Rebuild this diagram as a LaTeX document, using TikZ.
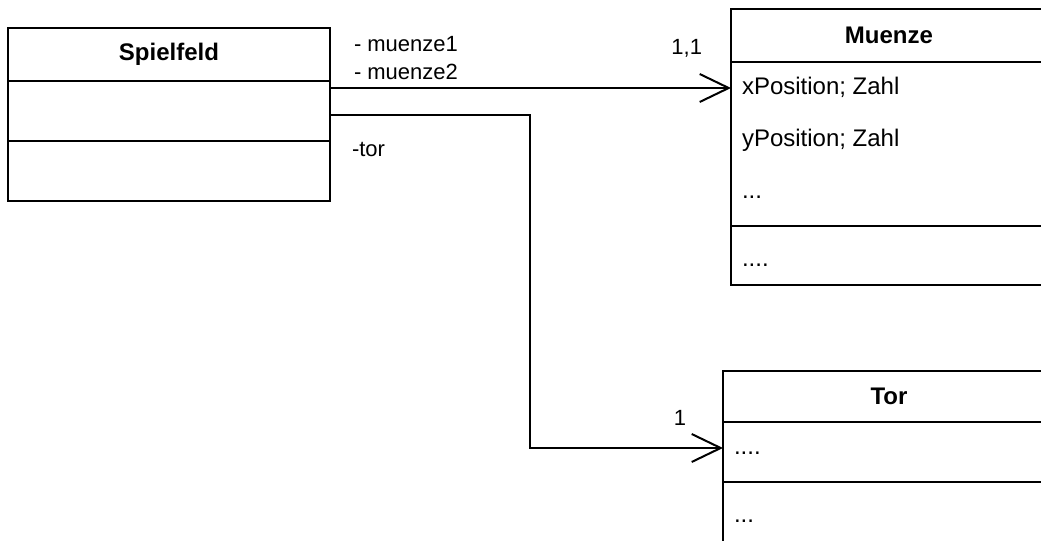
\documentclass[tikz,border=0pt]{standalone}
\usepackage{fontspec}
\setmainfont{Liberation Sans}
\usetikzlibrary{arrows.meta,positioning}

\begin{document}
\begin{tikzpicture}[x=0.5pt,y=-0.5pt,line width=1pt,
  every node/.style={font=\fontsize{12}{14}\selectfont},
  classhead/.style={draw,anchor=north west,inner sep=0pt,outer sep=0pt,font=\fontsize{12}{14}\selectfont\bfseries},
  compart/.style={draw,anchor=north west,inner sep=0pt,outer sep=0pt},
  attr/.style={anchor=west,inner xsep=5.5pt,inner ysep=0pt,outer sep=0pt,text height=9pt,text depth=2.5pt},
  lbl/.style={inner sep=0pt,font=\fontsize{11}{13}\selectfont},
  assoc/.style={-{Straight Barb[length=14.5pt,width=14pt]}}]
  \useasboundingbox (0,0) rectangle (1041,541);
  % Spielfeld
  \node[classhead,minimum width=161pt,minimum height=26.5pt] (sf) at (8,28) {Spielfeld};
  \node[compart,minimum width=161pt,minimum height=30pt] (sfattr) at (sf.south west) {};
  \node[compart,minimum width=161pt,minimum height=30pt] (sfops) at (sfattr.south west) {};
  % Muenze
  \node[classhead,minimum width=158pt,minimum height=26.5pt] (mz) at (731,9) {Muenze};
  \node[compart,minimum width=158pt,minimum height=82pt] (mzattr) at (mz.south west) {};
  \node[compart,minimum width=158pt,minimum height=29.5pt] (mzops) at (mzattr.south west) {};
  \node[attr] (mzx) at (731,88) {xPosition; Zahl};
  \node[attr] (mzy) at (731,140) {yPosition; Zahl};
  \node[attr] (mzdots) at (731,192) {...};
  \node[attr] (mzop) at (731,260) {....};
  % Tor
  \node[classhead,minimum width=166pt,minimum height=25.5pt] (tr) at (723,371) {Tor};
  \node[compart,minimum width=166pt,minimum height=30pt] (trattr) at (tr.south west) {};
  \node[compart,minimum width=166pt,minimum height=30pt] (trops) at (trattr.south west) {};
  \node[attr] (trdots) at (723,448) {....};
  \node[attr] (trop) at (723,516) {...};
  % Assoziationen
  \draw[assoc] (mzx.west -| sfattr.east)
      node[lbl,anchor=base west,xshift=11.5pt,yshift=18.3pt] {- muenze1}
      node[lbl,anchor=base west,xshift=11.5pt,yshift=4.2pt] {- muenze2}
    -- (mzx.west) node[lbl,anchor=base east,xshift=-14pt,yshift=16.7pt] {1,1};
  \draw[assoc] ([yshift=-2pt]sfattr.east)
      node[lbl,anchor=base west,xshift=10.5pt,yshift=-20.5pt] {-tor}
    -- ++(200,0) |- (trdots.west) node[lbl,anchor=base east,xshift=-18pt,yshift=11.5pt] {1};
\end{tikzpicture}
\end{document}
